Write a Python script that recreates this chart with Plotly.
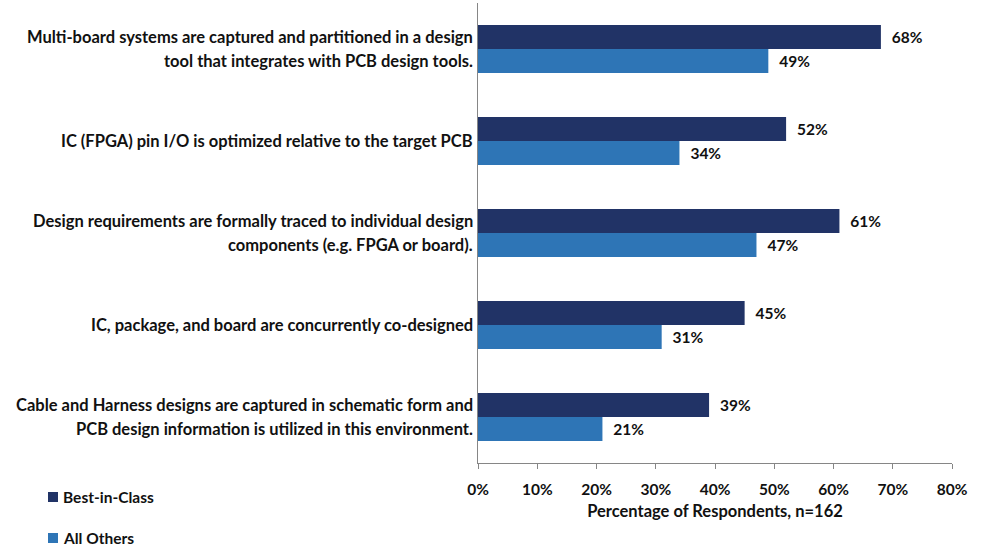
import plotly.graph_objects as go

categories = [
    "Multi-board systems are captured and partitioned in a design<br>tool that integrates with PCB design tools.",
    "IC (FPGA) pin I/O is optimized relative to the target PCB",
    "Design requirements are formally traced to individual design<br>components (e.g. FPGA or board).",
    "IC, package, and board are concurrently co-designed",
    "Cable and Harness designs are captured in schematic form and<br>PCB design information is utilized in this environment.",
]
series_names = ["Best-in-Class", "All Others"]
best_in_class = [68, 52, 61, 45, 39]
all_others = [49, 34, 47, 31, 21]
tick_vals = [0, 10, 20, 30, 40, 50, 60, 70, 80]
tick_text = ["0%", "10%", "20%", "30%", "40%", "50%", "60%", "70%", "80%"]

FONT = "Lato"
TXT = "#111111"
COLORS = ["#213366", "#2E75B6"]

W, H = 984, 546
ML, MR, MT, MB = 478, 32, 3, 83
PW, PH = W - ML - MR, H - MT - MB

fig = go.Figure()
for name, vals, col in zip(series_names, [best_in_class, all_others], COLORS):
    fig.add_trace(go.Bar(
        y=categories, x=vals, orientation="h", name=name,
        marker=dict(color=col, line=dict(width=0)),
        text=[f"{v}%" for v in vals], textposition="outside",
        texttemplate="\u00a0\u00a0<b>%{text}</b>",
        textfont=dict(family=FONT, size=15.5, color=TXT),
        cliponaxis=False, showlegend=False,
    ))

annotations = []
shapes = []
for cat in categories:
    lines = cat.split("<br>")
    n = len(lines)
    for i, ln in enumerate(lines):
        shift = (n - 1) * 12 - i * 24
        annotations.append(dict(
            x=0, xref="paper", xanchor="right", xshift=-3,
            y=cat, yref="y", yanchor="middle", yshift=shift,
            text="<b>" + ln + "</b>", showarrow=False,
            font=dict(family=FONT, size=16.5, color=TXT),
        ))

# manual legend (pixel positions converted to paper coords)
def px_x(px):
    return (px - ML) / PW

def px_y(py):
    return (H - MB - py) / PH

legend_y = [497, 538]
for name, col, py in zip(series_names, COLORS, legend_y):
    shapes.append(dict(
        type="rect", xref="paper", yref="paper",
        x0=px_x(48), x1=px_x(58), y0=px_y(py + 5), y1=px_y(py - 5),
        fillcolor=col, line=dict(width=0),
    ))
    annotations.append(dict(
        x=px_x(61), xref="paper", xanchor="left",
        y=px_y(py), yref="paper", yanchor="middle",
        text="<b>" + name + "</b>", showarrow=False,
        font=dict(family=FONT, size=15.5, color=TXT),
    ))

fig.update_layout(
    width=W, height=H,
    margin=dict(l=ML, r=MR, t=MT, b=MB, autoexpand=False),
    paper_bgcolor="white", plot_bgcolor="white",
    barmode="group", bargap=0.48, bargroupgap=0,
    font=dict(family=FONT, size=14, color=TXT),
    annotations=annotations, shapes=shapes,
    showlegend=False,
)
fig.update_xaxes(
    range=[0, 80], tickvals=tick_vals, ticktext=["<b>" + t + "</b>" for t in tick_text],
    showgrid=False, zeroline=False, showline=True, linecolor="#868686", linewidth=1,
    ticks="outside", ticklen=5, tickcolor="#868686", ticklabelstandoff=7,
    tickfont=dict(family=FONT, size=15.5, color=TXT), automargin=False,
    title=dict(text="<b>Percentage of Respondents, n=162</b>",
               font=dict(family=FONT, size=16.5, color=TXT), standoff=8),
)
fig.update_yaxes(
    autorange="reversed", showticklabels=False, showgrid=False, zeroline=False,
    showline=True, linecolor="#868686", linewidth=1, ticks="", automargin=False,
)

fig.write_html("out.html")
